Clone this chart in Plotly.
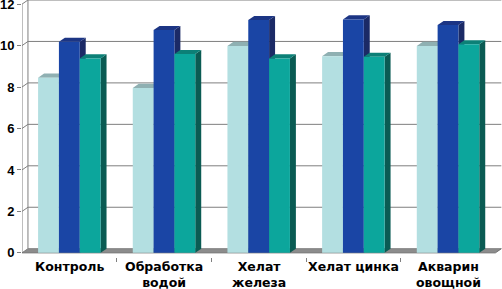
import plotly.graph_objects as go

categories = ["Контроль", "Обработка<br>водой", "Хелат<br>железа", "Хелат цинка", "Акварин<br>овощной"]
light_vals = [8.45, 7.96, 9.98, 9.49, 9.98]
dark_vals = [10.18, 10.75, 11.23, 11.26, 10.99]
teal_vals = [9.38, 9.59, 9.38, 9.46, 10.06]
y_ticks = [0, 2, 4, 6, 8, 10, 12]

# style
series_styles = [
    (light_vals, "#b3dfe1", "#8fb0b2", "#7fa3a6"),
    (dark_vals, "#1a45a5", "#1c3584", "#1b2a66"),
    (teal_vals, "#0ca69c", "#0c8077", "#0a5b53"),
]
BAR_W = 0.22
OFFSETS = [-0.22, 0.0, 0.22]
DX = 0.063
DY = 0.2
GRID = "#7f7f7f"
X0, X1 = -0.5, len(categories) - 0.5
YMAX = max(y_ticks)

shapes = []


def poly(pts, fill):
    path = "M " + " L ".join(f"{x},{y}" for x, y in pts) + " Z"
    shapes.append(dict(type="path", path=path, xref="x", yref="y",
                       fillcolor=fill, line=dict(width=0), layer="between"))


def seg(x0, y0, x1, y1, color=GRID, width=1):
    shapes.append(dict(type="line", x0=x0, y0=y0, x1=x1, y1=y1, xref="x", yref="y",
                       line=dict(color=color, width=width), layer="between"))


# floor
poly([(X0, 0), (X1, 0), (X1 + DX, DY), (X0 + DX, DY)], "#8c8c8c")
# back wall gridlines and connectors
for v in y_ticks:
    seg(X0, v, X0 + DX, v + DY)
    seg(X0 + DX, v + DY, X1 + DX, v + DY)
seg(X0 + DX, DY, X0 + DX, YMAX + DY)
seg(X0, 0, X0, YMAX)
seg(X0, 0, X1, 0, "#6e6e6e")
seg(X1, 0, X1 + DX, DY, "#6e6e6e")

# 3D sides and tops for bars
for s, (vals, front, top, side) in enumerate(series_styles):
    for i, v in enumerate(vals):
        xl = i + OFFSETS[s] - BAR_W / 2
        xr = i + OFFSETS[s] + BAR_W / 2
        poly([(xr, 0), (xr, v), (xr + DX, v + DY), (xr + DX, DY)], side)
        poly([(xl, v), (xr, v), (xr + DX, v + DY), (xl + DX, v + DY)], top)

fig = go.Figure()
for s, (vals, front, top, side) in enumerate(series_styles):
    fig.add_trace(go.Bar(
        x=[i + OFFSETS[s] for i in range(len(categories))],
        y=vals, width=BAR_W,
        marker=dict(color=front, line=dict(width=0)),
        hoverinfo="skip", showlegend=False,
    ))

yfont = dict(family="Liberation Sans, Arial", size=13, color="black", weight="bold")
xfont = dict(family="DejaVu Sans", size=12.5, color="black", weight="bold")

annotations = [
    dict(x=i, y=0, xref="x", yref="paper", yanchor="top", yshift=-1,
         text=c, showarrow=False, font=xfont, align="center", borderpad=0)
    for i, c in enumerate(categories)
]

fig.update_layout(
    width=502, height=289,
    margin=dict(l=22, r=0, t=0, b=32),
    paper_bgcolor="white", plot_bgcolor="white",
    shapes=shapes, annotations=annotations,
    barmode="overlay",
    xaxis=dict(range=[X0, X1 + 0.07], showgrid=False, zeroline=False, showline=False,
               showticklabels=False, ticks="", automargin=False,
               minor=dict(tickvals=[i + 0.5 for i in range(len(categories) - 1)],
                          ticks="outside", ticklen=4, tickcolor=GRID)),
    yaxis=dict(range=[-0.2, YMAX + 0.2], tickvals=y_ticks, showgrid=False,
               zeroline=False, showline=False, ticks="outside", ticklen=4,
               tickcolor=GRID, tickfont=yfont, automargin=False,
               ticklabeloverflow="allow"),
)
fig.write_html("out.html", config={"displayModeBar": False},
               post_script="document.body.style.margin='0';")
